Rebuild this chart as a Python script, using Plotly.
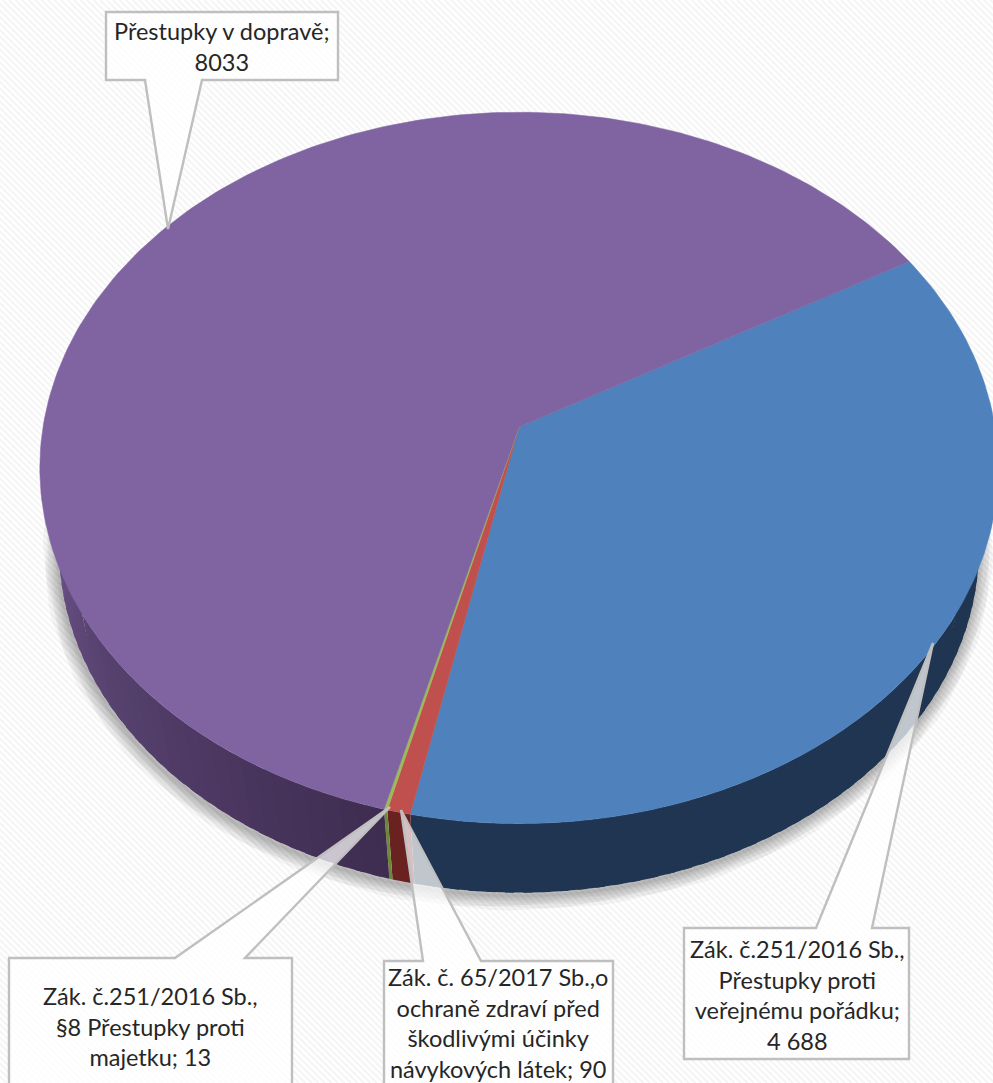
import math
import plotly.graph_objects as go

# ---- data ----
categories = [
    "Zák. č.251/2016 Sb., Přestupky proti veřejnému pořádku",
    "Zák. č. 65/2017 Sb.,o ochraně zdraví před škodlivými účinky návykových látek",
    "Zák. č.251/2016 Sb., §8 Přestupky proti majetku",
    "Přestupky v dopravě",
]
values = [4688, 90, 13, 8033]
label_lines = [
    ["Zák. č.251/2016 Sb.,", "Přestupky proti", "veřejnému pořádku;", "4 688"],
    ["Zák. č. 65/2017 Sb.,o", "ochraně zdraví před", "škodlivými účinky", "návykových látek; 90"],
    ["Zák. č.251/2016 Sb.,", "§8 Přestupky proti", "majetku; 13"],
    ["Přestupky v dopravě;", "8033"],
]
top_colors = ["#4f81bd", "#c0504d", "#9bbb59", "#8064a2"]
first_slice_angle = 60.1

# ---- view (page pixels) ----
W, H = 993, 1083
CX, APEX_Y, A, B, K = 519, 427, 476, 351, 0.115
BOT_SCALE_X, BOT_SCALE_Y, BOT_APEX_Y = 0.96, 0.97, 508


def top_pt(deg):
    t = math.radians(deg)
    d = 1 + K * math.cos(t)
    return CX + A * math.sin(t) / d, APEX_Y - B * math.cos(t) / d


def bot_pt(deg):
    t = math.radians(deg)
    d = 1 + K * math.cos(t)
    return CX + A * BOT_SCALE_X * math.sin(t) / d, BOT_APEX_Y - B * BOT_SCALE_Y * math.cos(t) / d


def inner_pt(deg):
    # upper edge of a wall piece: on the rim in front, pulled inwards towards the flanks
    p = 1 - 0.15 * min(1, max(0, (abs(deg - 180) - 60) / 25))
    x, y = top_pt(deg)
    return CX + (x - CX) * p, APEX_Y + (y - APEX_Y) * p


def hex_mix(c1, c2, f):
    a = [int(c1[i:i + 2], 16) for i in (1, 3, 5)]
    b = [int(c2[i:i + 2], 16) for i in (1, 3, 5)]
    return "#%02x%02x%02x" % tuple(round(p + (q - p) * f) for p, q in zip(a, b))


def arange(a0, a1, step=1.0):
    n = max(2, int(abs(a1 - a0) / step) + 2)
    return [a0 + (a1 - a0) * i / (n - 1) for i in range(n)]


fig = go.Figure()

# background stripes
sx, sy = [], []
x0 = -H
while x0 < W:
    sx += [x0, x0 + H, None]
    sy += [0, H, None]
    x0 += 6.5
fig.add_trace(go.Scatter(x=sx, y=sy, mode="lines", line=dict(color="#f5f5f5", width=2.2), hoverinfo="skip"))

# soft shadow round the lower rim
ring = [bot_pt(a) for a in arange(0, 360, 2)]
for w in (30, 26, 22, 18, 14, 10, 6, 3):
    fig.add_trace(go.Scatter(
        x=[p[0] - 1 for p in ring], y=[p[1] + 3 for p in ring], mode="lines",
        line=dict(color="rgba(0,0,0,0.04)", width=w), hoverinfo="skip"))

# slice boundaries from values
total = sum(values)
bounds = [first_slice_angle]
for v in values:
    bounds.append(bounds[-1] + v / total * 360)


def side_color(i, ang):
    if i == 0:
        return "#1f3551"
    if i == 1:
        return "#692220"
    if i == 2:
        return "#6c8a35"
    f = min(1, max(0, (ang - bounds[3]) / 75))
    return hex_mix("#3e2c50", "#6c5489", f)


# outer walls
for i in range(len(values)):
    a0, a1 = bounds[i], bounds[i + 1]
    lo, hi = max(a0, 70), min(a1, 292)
    if hi <= lo:
        continue
    n = max(1, int((hi - lo) / 2.0))
    for j in range(n):
        s0 = lo + (hi - lo) * j / n
        s1 = lo + (hi - lo) * (j + 1) / n
        if j > 0:
            s0 -= 1.0  # overlap the previous piece so that no seams show
        angs = arange(s0, s1, 1)
        pts = [inner_pt(a) for a in angs] + [bot_pt(a) for a in reversed(angs)]
        col = side_color(i, (s0 + s1) / 2)
        fig.add_trace(go.Scatter(
            x=[p[0] for p in pts] + [pts[0][0]], y=[p[1] for p in pts] + [pts[0][1]],
            mode="lines", fill="toself", fillcolor=col, line=dict(color=col, width=0), hoverinfo="skip"))

# top faces
for i, name in enumerate(categories):
    pts = [top_pt(a) for a in arange(bounds[i], bounds[i + 1], 1)]
    xs = [CX] + [p[0] for p in pts] + [CX]
    ys = [APEX_Y] + [p[1] for p in pts] + [APEX_Y]
    fig.add_trace(go.Scatter(
        x=xs, y=ys, mode="lines", fill="toself", fillcolor=top_colors[i],
        line=dict(color=top_colors[i], width=0.5), name=name, hoverinfo="name"))

# callouts: box (l, t, r, b), pointer base (x1, x2) on one box side, tip
callouts = [
    dict(box=(684, 928, 909, 1059), base=(816, 872), side="top", tip=(933, 643), txt=(797, 995)),
    dict(box=(384, 961, 613, 1095), base=(423, 481), side="top", tip=(401, 810), txt=(498, 1023)),
    dict(box=(9, 958, 292, 1095), base=(175, 245), side="top", tip=(390, 807), txt=(150, 1026)),
    dict(box=(106, 12, 338, 80), base=(145, 202), side="bottom", tip=(168, 229), txt=(222, 46)),
]
shapes = []
annotations = []
for c, lines in zip(callouts, label_lines):
    l, t, r, b = c["box"]
    b1, b2 = c["base"]
    tx, ty = c["tip"]
    if c["side"] == "top":
        path = f"M{l},{t} L{b1},{t} L{tx},{ty} L{b2},{t} L{r},{t} L{r},{b} L{l},{b} Z"
    else:
        path = f"M{l},{t} L{r},{t} L{r},{b} L{b2},{b} L{tx},{ty} L{b1},{b} L{l},{b} Z"
    shapes.append(dict(type="path", path=path, xref="x", yref="y", layer="above",
                       fillcolor="rgba(255,255,255,0.72)", line=dict(color="#bfbfbf", width=2.4)))
    annotations.append(dict(x=c["txt"][0], y=c["txt"][1], xref="x", yref="y", showarrow=False,
                            text="<br>".join(lines), align="center",
                            font=dict(family="Lato, Carlito, sans-serif", size=23.5, color="#262626")))

fig.update_layout(
    width=W, height=H, autosize=False, margin=dict(l=0, r=0, t=0, b=0),
    paper_bgcolor="#ffffff", plot_bgcolor="#ffffff", showlegend=False,
    xaxis=dict(range=[0, W], visible=False, fixedrange=True),
    yaxis=dict(range=[H, 0], visible=False, fixedrange=True),
    shapes=shapes, annotations=annotations,
)
fig.write_html("out.html", config={"displayModeBar": False},
               post_script="document.body.style.margin='0';")
